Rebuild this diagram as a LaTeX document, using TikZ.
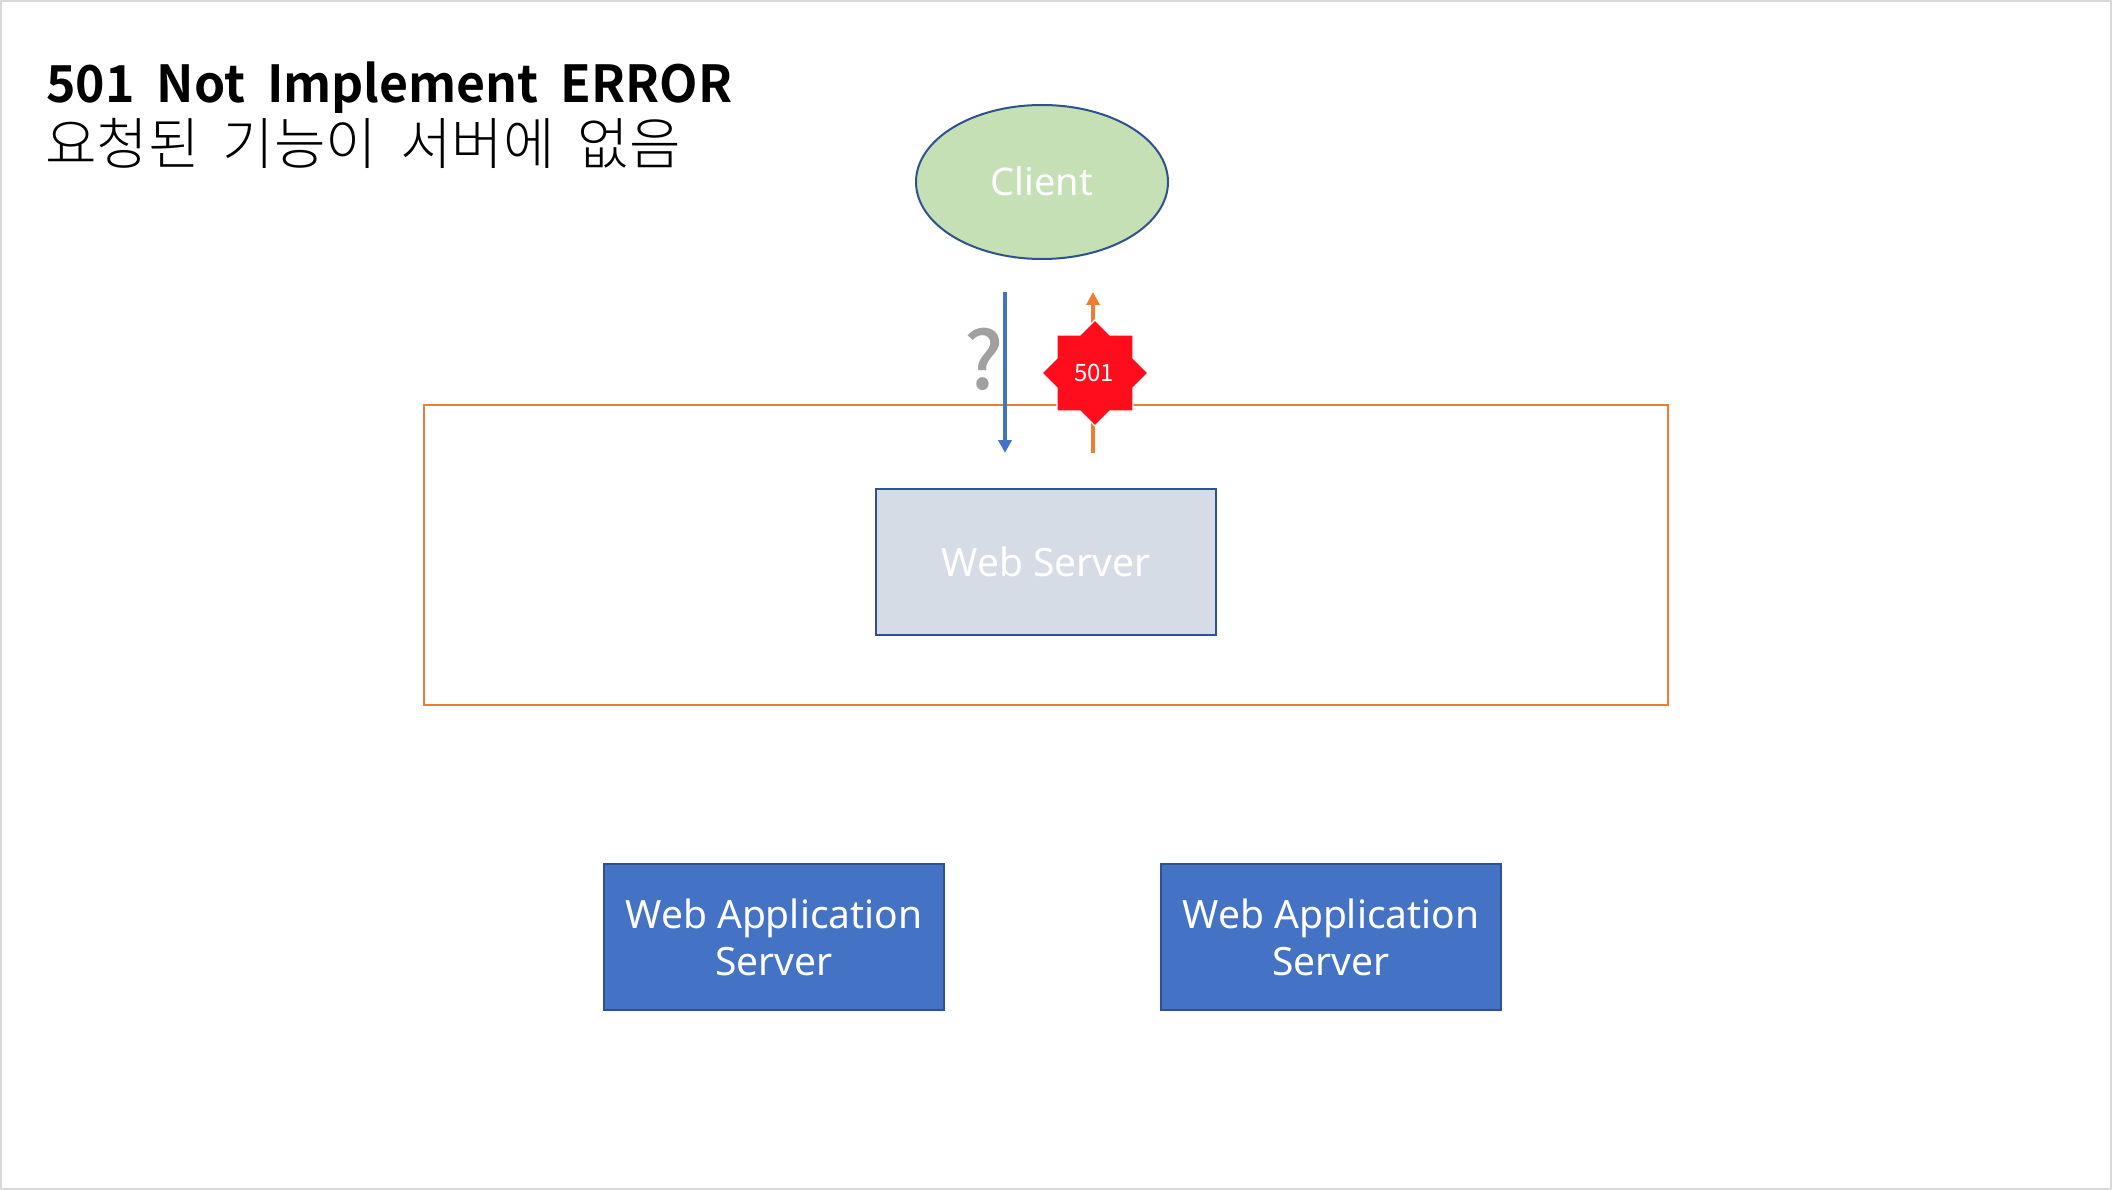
\documentclass[tikz,border=0pt]{standalone}
\usepackage{fontspec}
\setmainfont{Noto Sans}
\newfontfamily\kr{Noto Sans CJK KR}
\newfontfamily\krb[FakeStretch=0.98]{Noto Sans CJK KR Bold}
\newfontfamily\krl{Noto Sans CJK KR Light}
\newfontfamily\krm{Noto Sans CJK KR Medium}
\usetikzlibrary{arrows.meta,shapes.geometric}
\definecolor{slideline}{HTML}{D9D9D9}
\definecolor{accblue}{HTML}{4472C4}
\definecolor{accorange}{HTML}{ED7D31}
\definecolor{darkedge}{HTML}{2F528F}
\definecolor{lightgreen}{HTML}{C5E0B4}
\definecolor{lightslate}{HTML}{D6DCE5}
\definecolor{badred}{HTML}{FF0D1D}
\definecolor{qgray}{HTML}{A0A0A0}
\tikzset{
  x=1pt,y=-1pt,
  boxed/.style={draw=darkedge,line width=2pt,minimum width=340.5pt,minimum height=146pt,inner sep=0pt,align=center,text=white,font=\fontsize{39}{47}\selectfont},
  arrowline/.style={line width=4pt,-{Triangle[length=13pt,width=13pt]}},
}
\begin{document}
\begin{tikzpicture}
\useasboundingbox (0,0) rectangle (2112,1190);
\draw[slideline,line width=2pt,fill=white] (1,1) rectangle (2111,1189);
\node[anchor=base west,inner sep=0pt,font=\fontsize{51}{60}\selectfont\krb] (title) at (46,102.5) {\spaceskip 22pt\relax 501 Not Implement ERROR};
\node[anchor=base west,inner sep=0pt,font=\fontsize{56}{60}\selectfont\krl] (subtitle) at (45,165) {\spaceskip 23pt\relax 요청된 기능이 서버에 없음};
\node[draw=accorange,line width=2pt,minimum width=1244pt,minimum height=300pt,inner sep=0pt] (zone) at (1046,554.5) {};
\node[ellipse,draw=darkedge,line width=2pt,fill=lightgreen,minimum width=252pt,minimum height=154pt,inner sep=0pt,text=white,font=\fontsize{38}{46}\selectfont] (client) at (1042,182) {\raisebox{1pt}{Client}};
\node[boxed,fill=lightslate] (web) at (1046,561.5) {Web Server};
\node[boxed,fill=accblue] (was1) at (774,937) {Web Application\\Server};
\node[boxed,fill=accblue] (was2) at (1331,937) {Web Application\\Server};
\coordinate (reqstart) at (1005,292);
\coordinate (reqend) at (1005,453);
\coordinate (resstart) at (1093,453);
\coordinate (resend) at (1093,292);
\node[inner sep=0pt,text=qgray,font=\fontsize{80}{90}\selectfont\krm] (q) at (984,359) {?};
\draw[arrowline,accblue] (reqstart) -- (reqend);
\draw[arrowline,accorange] (resstart) -- (resend);
\draw[shift={(1095,373)},draw=white,line width=1.2pt,fill=badred,line join=miter]
  (0,-53) -- (15,-38) -- (38,-38) -- (38,-15) -- (53,0) -- (38,15) -- (38,38) -- (15,38)
  -- (0,53) -- (-15,38) -- (-38,38) -- (-38,15) -- (-53,0) -- (-38,-15) -- (-38,-38) -- (-15,-38) -- cycle;
\node[inner sep=0pt,text=white,font=\fontsize{24}{28}\selectfont\kr] (badge) at (1094,373) {501};
\end{tikzpicture}
\end{document}
